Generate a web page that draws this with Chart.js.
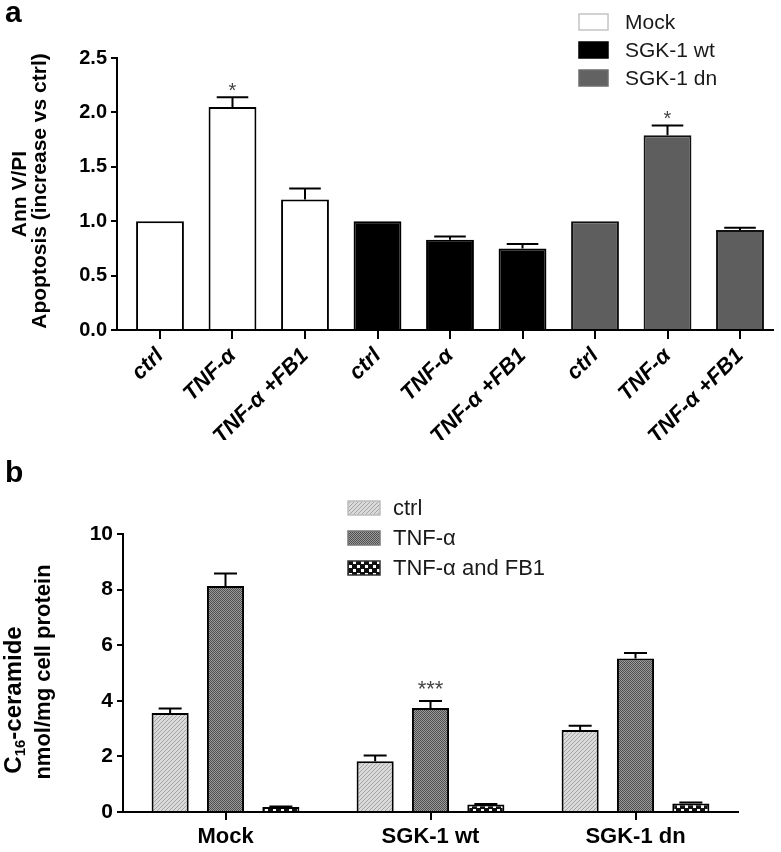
<!DOCTYPE html>
<html><head><meta charset="utf-8">
<script src="https://cdn.jsdelivr.net/npm/chart.js@4.4.1/dist/chart.umd.min.js"></script>
<style>
html,body{margin:0;padding:0;background:#fff;}
#wrap{position:relative;width:781px;height:852px;overflow:hidden;background:#fff;}
canvas{position:absolute;left:0;}
#ca{top:0;} #cb{top:440px;}
</style></head><body>
<div id="wrap"><canvas id="ca" width="781" height="440"></canvas><canvas id="cb" width="781" height="412"></canvas></div>
<script>
// ---------- Panel a data ----------
const aLabels = ['ctrl', 'TNF-α', 'TNF-α +FB1', 'ctrl', 'TNF-α', 'TNF-α +FB1', 'ctrl', 'TNF-α', 'TNF-α +FB1'];
const aSeries = ['Mock', 'SGK-1 wt', 'SGK-1 dn'];
const aMock = [1.00, 2.05, 1.20];
const aWt = [1.00, 0.83, 0.75];
const aDn = [1.00, 1.79, 0.92];
const aMockErr = [0, 0.09, 0.10];
const aWtErr = [0, 0.03, 0.04];
const aDnErr = [0, 0.09, 0.02];
const aMockStars = ['', '*', ''];
const aWtStars = ['', '', ''];
const aDnStars = ['', '*', ''];
const aYTicks = [0, 0.5, 1.0, 1.5, 2.0, 2.5];
const aYTitle = ['Ann V/PI', 'Apoptosis (increase vs ctrl)'];

// ---------- Panel b data ----------
const bGroups = ['Mock', 'SGK-1 wt', 'SGK-1 dn'];
const bSeries = ['ctrl', 'TNF-α', 'TNF-α and FB1'];
const bCtrl = [3.56, 1.83, 2.95];
const bTnf = [8.13, 3.74, 5.52];
const bFb1 = [0.18, 0.27, 0.31];
const bCtrlErr = [0.16, 0.20, 0.15];
const bTnfErr = [0.45, 0.25, 0.20];
const bFb1Err = [0.02, 0.02, 0.03];
const bCtrlStars = ['', '', ''];
const bTnfStars = ['', '***', ''];
const bFb1Stars = ['', '', ''];
const bYTicks = [0, 2, 4, 6, 8, 10];

const FONT = "'Liberation Sans', Arial, Helvetica, sans-serif";
Chart.defaults.font.family = FONT;
Chart.defaults.color = '#000';

// ---------- patterns ----------
function makePattern(kind) {
  const c = document.createElement('canvas');
  const g = c.getContext('2d');
  if (kind === 'diag') {
    c.width = 4; c.height = 4;
    g.fillStyle = '#dadada'; g.fillRect(0, 0, 4, 4);
    g.fillStyle = '#a4a4a4';
    for (let i = 0; i < 4; i++) g.fillRect(i, 3 - i, 1, 1);
  } else if (kind === 'dots') {
    c.width = 2; c.height = 2;
    g.fillStyle = '#9c9c9c'; g.fillRect(0, 0, 2, 2);
    g.fillStyle = '#4e4e4e'; g.fillRect(0, 0, 1, 1); g.fillRect(1, 1, 1, 1);
  } else {
    c.width = 8; c.height = 8;
    g.fillStyle = '#111'; g.fillRect(0, 0, 8, 8);
    g.fillStyle = '#fff'; g.fillRect(1, 1, 3, 3); g.fillRect(5, 5, 3, 3);
  }
  return document.createElement('canvas').getContext('2d').createPattern(c, 'repeat');
}
const patDiag = makePattern('diag');
const patDots = makePattern('dots');
const patCheck = makePattern('check');

// ---------- plugins ----------
const errorBars = {
  id: 'errbars',
  afterDatasetsDraw(chart, args, opts) {
    const ctx = chart.ctx, ys = chart.scales.y;
    chart.data.datasets.forEach((ds, di) => {
      const meta = chart.getDatasetMeta(di);
      meta.data.forEach((bar, i) => {
        const raw = ds.data[i];
        const v = (raw !== null && typeof raw === 'object') ? raw.y : raw;
        if (v === null || v === undefined) return;
        const err = ds.errors ? ds.errors[i] : 0;
        const p = bar.getProps(['x', 'width'], true);
        const yTop = ys.getPixelForValue(v);
        const yE = ys.getPixelForValue(v + err);
        ctx.save();
        if (err > 0) {
          ctx.strokeStyle = '#000'; ctx.lineWidth = 2;
          ctx.beginPath();
          ctx.moveTo(p.x, yTop); ctx.lineTo(p.x, yE);
          const cw = p.width * opts.cap / 2;
          ctx.moveTo(p.x - cw, yE); ctx.lineTo(p.x + cw, yE);
          ctx.stroke();
        }
        const star = ds.stars ? ds.stars[i] : '';
        if (star) {
          ctx.fillStyle = '#444';
          ctx.font = opts.starSize + 'px ' + FONT;
          ctx.textAlign = 'center'; ctx.textBaseline = 'alphabetic';
          ctx.fillText(star, p.x, yE - opts.starGap + 0.58 * opts.starSize);
        }
        ctx.restore();
      });
    });
  }
};

const decor = {
  id: 'decor',
  afterDraw(chart, args, o) {
    const ctx = chart.ctx;
    ctx.save();
    // panel letter
    ctx.fillStyle = '#000';
    ctx.font = 'bold 30px ' + FONT;
    ctx.textAlign = 'left'; ctx.textBaseline = 'alphabetic';
    ctx.fillText(o.letter, o.letterX, o.letterY);
    // legend
    o.legend.forEach((it, i) => {
      const cy = o.legY + i * o.legStep;
      ctx.fillStyle = it.fill;
      ctx.fillRect(o.boxX, cy - o.boxH / 2, o.boxW, o.boxH);
      ctx.strokeStyle = it.stroke; ctx.lineWidth = 1.5;
      ctx.strokeRect(o.boxX, cy - o.boxH / 2, o.boxW, o.boxH);
      ctx.fillStyle = '#1a1a1a';
      ctx.font = o.legFont + 'px ' + FONT;
      ctx.textAlign = 'left'; ctx.textBaseline = 'middle';
      ctx.fillText(it.label, o.textX, cy + 1);
    });
    // y title
    ctx.fillStyle = '#000';
    ctx.textAlign = 'center'; ctx.textBaseline = 'middle';
    o.yTitle.forEach((ln) => {
      ctx.save();
      ctx.translate(ln.x, ln.y);
      ctx.rotate(-Math.PI / 2);
      const fs = ln.size || o.titleFont;
      const big = 'bold ' + fs + 'px ' + FONT;
      const small = 'bold ' + Math.round(fs * 0.62) + 'px ' + FONT;
      if (ln.sub) {
        ctx.textAlign = 'left';
        ctx.font = big; const w1 = ctx.measureText(ln.pre).width;
        const w3 = ctx.measureText(ln.post).width;
        ctx.font = small; const w2 = ctx.measureText(ln.sub).width;
        let x0 = -(w1 + w2 + w3) / 2;
        ctx.font = big; ctx.fillText(ln.pre, x0, 0);
        ctx.font = small; ctx.fillText(ln.sub, x0 + w1, fs * 0.3);
        ctx.font = big; ctx.fillText(ln.post, x0 + w1 + w2, 0);
      } else {
        ctx.font = big;
        ctx.fillText(ln.text, 0, 0);
      }
      ctx.restore();
    });
    ctx.restore();
  }
};

// ---------- Chart a ----------
const toPts = (arr, off) => arr.map((v, i) => ({ x: i + off, y: v }));
new Chart(document.getElementById('ca'), {
  type: 'bar',
  data: {
    datasets: [
      { label: aSeries[0], data: toPts(aMock, 0), errors: aMockErr, stars: aMockStars,
        backgroundColor: '#ffffff', borderColor: '#000', borderWidth: 2 },
      { label: aSeries[1], data: toPts(aWt, 3), errors: aWtErr, stars: aWtStars,
        backgroundColor: '#000000', borderColor: '#000', borderWidth: 2 },
      { label: aSeries[2], data: toPts(aDn, 6), errors: aDnErr, stars: aDnStars,
        backgroundColor: '#5e5e5e', borderColor: '#111', borderWidth: 2 }
    ]
  },
  options: {
    responsive: false, animation: false,
    grouped: false, barPercentage: 0.66, categoryPercentage: 1.0,
    layout: { padding: { top: 58, right: 8, left: 0, bottom: 0 } },
    plugins: {
      legend: { display: false }, tooltip: { enabled: false },
      errbars: { cap: 0.66, starGap: 12, starSize: 20 },
      decor: {
        letter: 'a', letterX: 5, letterY: 22,
        legend: [
          { label: aSeries[0], fill: '#ffffff', stroke: '#c4c4c4' },
          { label: aSeries[1], fill: '#000000', stroke: '#000000' },
          { label: aSeries[2], fill: '#626262', stroke: '#6e6e6e' }
        ],
        legY: 22, legStep: 28, boxX: 579, boxW: 29, boxH: 16, textX: 625, legFont: 21,
        titleFont: 21,
        yTitle: [
          { text: aYTitle[0], x: 20, y: 194 },
          { text: aYTitle[1], x: 40, y: 191 }
        ]
      }
    },
    scales: {
      x: {
        type: 'linear', min: -0.593, max: 8.455, offset: false,
        afterFit(s) { s.height = 110; },
        border: { display: true, color: '#000', width: 2 },
        grid: { offset: false, drawOnChartArea: false, drawTicks: true, tickLength: 9, color: '#000', lineWidth: 2 },
        ticks: {
          stepSize: 1, includeBounds: false, autoSkip: false,
          minRotation: 45, maxRotation: 45, padding: 4,
          font: { size: 22, weight: 'bold', style: 'italic' },
          callback: (v) => (Number.isInteger(v) && aLabels[v] !== undefined) ? aLabels[v] : ''
        }
      },
      y: {
        min: 0, max: 2.5,
        afterFit(s) { s.width = 117; },
        afterBuildTicks(s) { s.ticks = aYTicks.map(v => ({ value: v })); },
        border: { display: true, color: '#000', width: 2 },
        grid: { drawOnChartArea: false, drawTicks: true, tickLength: 6, color: '#000', lineWidth: 2 },
        ticks: { padding: 4, font: { size: 20, weight: 'bold' }, callback: (v) => Number(v).toFixed(1) }
      }
    }
  },
  plugins: [errorBars, decor]
});

// ---------- Chart b ----------
new Chart(document.getElementById('cb'), {
  type: 'bar',
  data: {
    labels: bGroups,
    datasets: [
      { label: bSeries[0], data: bCtrl, errors: bCtrlErr, stars: bCtrlStars,
        backgroundColor: patDiag, borderColor: '#000', borderWidth: 2 },
      { label: bSeries[1], data: bTnf, errors: bTnfErr, stars: bTnfStars,
        backgroundColor: patDots, borderColor: '#000', borderWidth: 2 },
      { label: bSeries[2], data: bFb1, errors: bFb1Err, stars: bFb1Stars,
        backgroundColor: patCheck, borderColor: '#000', borderWidth: 2 }
    ]
  },
  options: {
    responsive: false, animation: false,
    barPercentage: 0.67, categoryPercentage: 0.81,
    layout: { padding: { top: 94, right: 43, left: 0, bottom: 0 } },
    plugins: {
      legend: { display: false }, tooltip: { enabled: false },
      errbars: { cap: 0.62, starGap: 18, starSize: 22 },
      decor: {
        letter: 'b', letterX: 5, letterY: 42,
        legend: [
          { label: bSeries[0], fill: patDiag, stroke: '#bdbdbd' },
          { label: bSeries[1], fill: patDots, stroke: '#777' },
          { label: bSeries[2], fill: patCheck, stroke: '#333' }
        ],
        legY: 68, legStep: 30, boxX: 348, boxW: 32, boxH: 14, textX: 393, legFont: 22,
        titleFont: 22,
        yTitle: [
          { pre: 'C', sub: '16', post: '-ceramide', x: 14, y: 700 - 440, size: 24 },
          { text: 'nmol/mg cell protein', x: 44, y: 672 - 440 }
        ]
      }
    },
    scales: {
      x: {
        afterFit(s) { s.height = 40; },
        border: { display: true, color: '#000', width: 2 },
        grid: { offset: false, drawOnChartArea: false, drawTicks: true, tickLength: 8, color: '#000', lineWidth: 2 },
        ticks: { padding: 4, font: { size: 22, weight: 'bold' } }
      },
      y: {
        min: 0, max: 10,
        afterFit(s) { s.width = 123; },
        afterBuildTicks(s) { s.ticks = bYTicks.map(v => ({ value: v })); },
        border: { display: true, color: '#000', width: 2 },
        grid: { drawOnChartArea: false, drawTicks: true, tickLength: 6, color: '#000', lineWidth: 2 },
        ticks: { padding: 4, font: { size: 21, weight: 'bold' } }
      }
    }
  },
  plugins: [errorBars, decor]
});
</script>
</body></html>
